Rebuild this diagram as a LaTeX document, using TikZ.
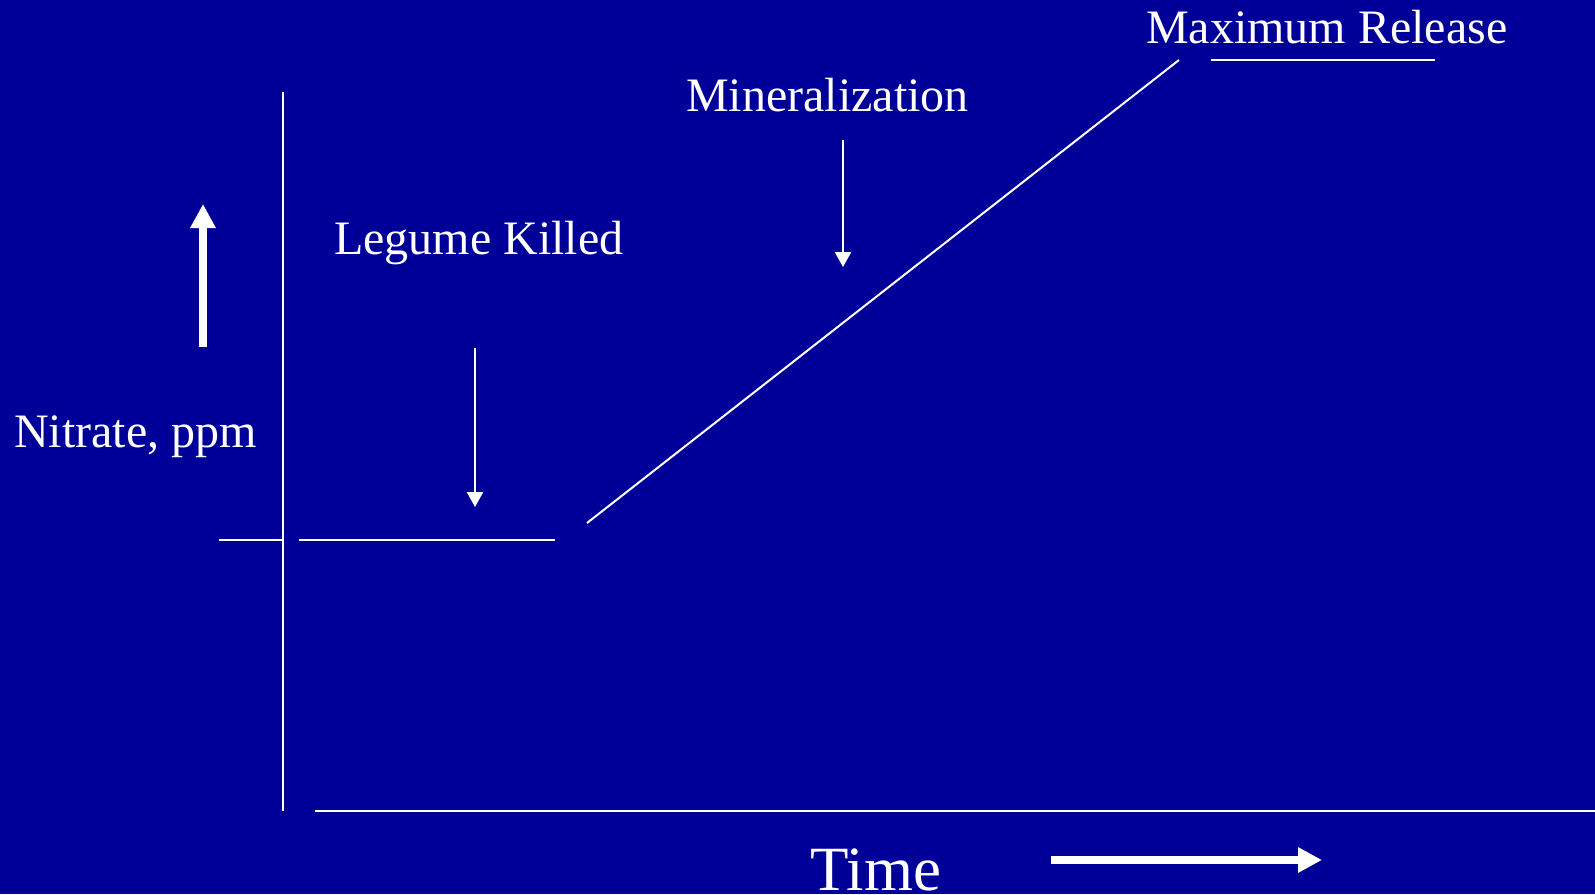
\documentclass[tikz,border=0pt]{standalone}
\usepackage{fontspec}
\setmainfont{Liberation Serif}
\usetikzlibrary{arrows.meta}
\definecolor{bgblue}{RGB}{0,0,153}
\tikzset{
  lbl/.style={text=white, inner sep=0pt, anchor=base west, font=\fontsize{48}{58}\selectfont},
  bigl/.style={text=white, inner sep=0pt, anchor=base west, font=\fontsize{63}{74}\selectfont},
  thinline/.style={white, line width=2pt},
  thinarrow/.style={white, line width=2.5pt, -{Triangle[width=16pt,length=15pt]}},
  fatarrow/.style={white, line width=8pt, -{Triangle[width=24pt,length=24pt]}}
}
\begin{document}
\begin{tikzpicture}[x=1pt,y=-1pt]
\fill[bgblue] (0,0) rectangle (1595,894);
\useasboundingbox (0,0) rectangle (1595,894);
% texts
\node[lbl] (maxrel) at (1146,43) {Maximum Release};
\node[lbl] (miner) at (686,111) {Mineralization};
\node[lbl] (legume) at (334,254) {Legume Killed};
\node[lbl] (nitrate) at (14,447) {Nitrate, ppm};
\node[bigl] (time) at (810,890) {Time};
% coordinates
\coordinate (yaxT) at (283,92);
\coordinate (yaxB) at (283,811);
\coordinate (xaxL) at (315,811);
\coordinate (xaxR) at (1595,811);
\coordinate (tickL) at (219,540);
\coordinate (tickR) at (283,540);
\coordinate (flatL) at (299,540);
\coordinate (flatR) at (555,540);
\coordinate (diagA) at (587,523);
\coordinate (diagB) at (1179,60);
\coordinate (ulL) at (1211,60);
\coordinate (ulR) at (1435,60);
\coordinate (upB) at (203,347);
\coordinate (upT) at (203,204);
\coordinate (legT) at (475,348);
\coordinate (legB) at (475,507);
\coordinate (minT) at (843,140);
\coordinate (minB) at (843,267);
\coordinate (timeL) at (1051,860);
\coordinate (timeR) at (1322,860);
% axes and lines
\draw[thinline] (yaxT) -- (yaxB);
\draw[thinline] (xaxL) -- (xaxR);
\draw[thinline] (tickL) -- (tickR);
\draw[thinline] (flatL) -- (flatR);
\draw[thinline] (diagA) -- (diagB);
\draw[thinline] (ulL) -- (ulR);
% arrows
\draw[fatarrow] (upB) -- (upT);
\draw[fatarrow] (timeL) -- (timeR);
\draw[thinarrow] (legT) -- (legB);
\draw[thinarrow] (minT) -- (minB);
\end{tikzpicture}
\end{document}
